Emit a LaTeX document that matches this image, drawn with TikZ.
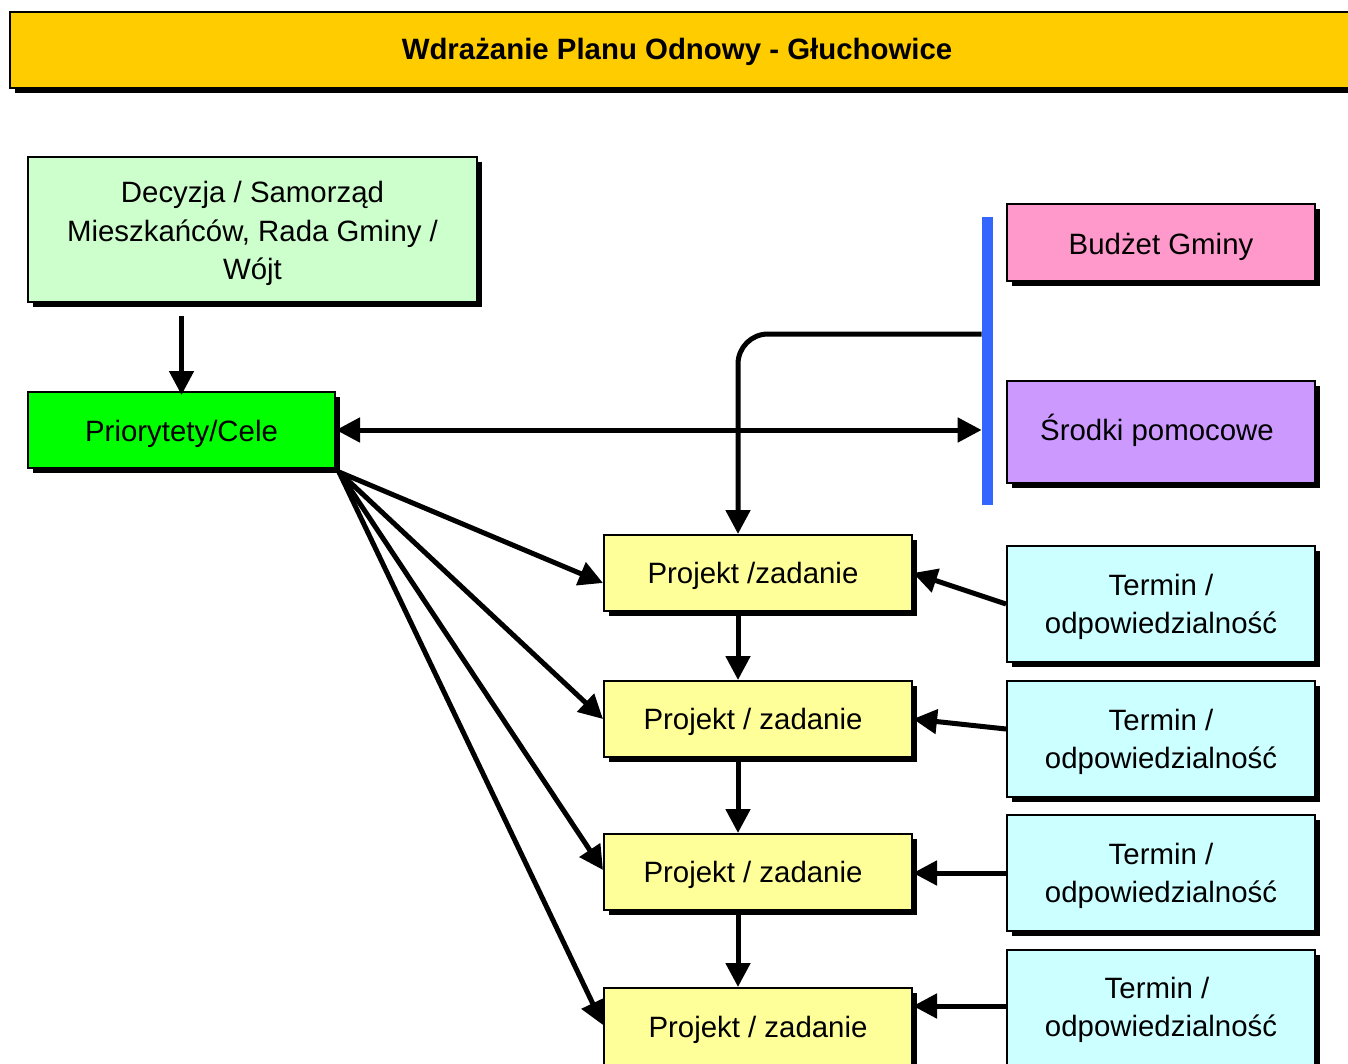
\documentclass[tikz,border=0pt]{standalone}
\usepackage{fontspec}
\setmainfont{Liberation Sans}
\usetikzlibrary{arrows.meta,shadows}
\definecolor{cTitle}{HTML}{FFCC00}
\definecolor{cDec}{HTML}{CCFFCC}
\definecolor{cPrio}{HTML}{00FF00}
\definecolor{cBud}{HTML}{FF99CC}
\definecolor{cSrod}{HTML}{CC99FF}
\definecolor{cProj}{HTML}{FFFF99}
\definecolor{cTerm}{HTML}{CCFFFF}
\definecolor{cBar}{HTML}{3366FF}
% shifted text: #1 = horizontal kern, #2 = vertical shift, #3 = text
\newcommand{\shtxt}[3]{\hspace*{#1}\raisebox{#2}[\height][\depth]{\begin{tabular}{@{}c@{}}#3\end{tabular}}}
\tikzset{
  box/.style={draw=black, line width=1pt, inner sep=0pt, align=center,
    font=\fontsize{14.7}{19.25}\selectfont,
    drop shadow={shadow xshift=2.5pt, shadow yshift=-2.5pt, fill=black, opacity=1}},
  projbox/.style={box, fill=cProj, minimum width=154pt, minimum height=38pt},
  termbox/.style={box, fill=cTerm, minimum width=154pt, minimum height=58pt},
  arr/.style={line width=2.5pt, -{Triangle[length=12pt,width=12pt]}},
  darr/.style={line width=2.5pt, {Triangle[length=12pt,width=12pt]}-{Triangle[length=12pt,width=12pt]}},
}
\begin{document}
\begin{tikzpicture}[x=0.5pt,y=-0.5pt]
\useasboundingbox (0,0) rectangle (1348,1064);
\clip (0,0) rectangle (1348,1064);
\fill[white] (0,0) rectangle (1348,1064);
% title
\node[box, fill=cTitle, minimum width=675pt, minimum height=38pt,
  font=\fontsize{14.7}{17}\selectfont\bfseries] (title) at (685,50)
  {\shtxt{-8pt}{-1.5pt}{Wdrażanie Planu Odnowy - Głuchowice}};
% left column
\node[box, fill=cDec, minimum width=224.5pt, minimum height=72.5pt] (dec) at (252.5,229.5)
  {\shtxt{0pt}{-2pt}{Decyzja / Samorząd\\Mieszkańców, Rada Gminy /\\Wójt}};
\node[box, fill=cPrio, minimum width=153.5pt, minimum height=38pt] (prio) at (181.5,430)
  {\shtxt{0pt}{-2pt}{Priorytety/Cele}};
% right top
\node[box, fill=cBud, minimum width=154pt, minimum height=38.5pt] (bud) at (1161,242.5)
  {\shtxt{0pt}{-2pt}{Budżet Gminy}};
\node[box, fill=cSrod, minimum width=154pt, minimum height=51pt] (srod) at (1161,432)
  {\shtxt{-4pt}{-0.5pt}{Środki pomocowe}};
\node[fill=cBar, inner sep=0pt, minimum width=5.5pt, minimum height=144pt] (bar) at (987.5,361) {};
% projects
\node[projbox] (p1) at (758,573) {\shtxt{-5pt}{-1.5pt}{Projekt /zadanie}};
\node[projbox] (p2) at (758,719) {\shtxt{-5pt}{-1.5pt}{Projekt / zadanie}};
\node[projbox] (p3) at (758,872) {\shtxt{-5pt}{-1.5pt}{Projekt / zadanie}};
\node[projbox, minimum height=42pt] (p4) at (758,1030) {\shtxt{0pt}{0pt}{Projekt / zadanie}};
% termin boxes
\node[termbox] (t1) at (1161,604) {\shtxt{0pt}{-1.5pt}{Termin /\\odpowiedzialność}};
\node[termbox] (t2) at (1161,739) {\shtxt{0pt}{-1.5pt}{Termin /\\odpowiedzialność}};
\node[termbox] (t3) at (1161,873) {\shtxt{0pt}{-1.5pt}{Termin /\\odpowiedzialność}};
\node[termbox] (t4) at (1161,1008) {\shtxt{0pt}{-1pt}{\hspace*{-4pt}Termin /\\odpowiedzialność}};
% connectors
\draw[arr] ([yshift=-6.5pt]dec.south -| prio.north) -- ([yshift=-2pt]prio.north);
\draw[darr] (prio.east) -- (bar.west |- prio.east);
\draw[arr, rounded corners=15pt] (bar.west |- 0,334) -| ([xshift=-10pt]p1.north);
\draw[arr] ([xshift=1.5pt,yshift=-1.5pt]prio.south east) -- ([yshift=-5pt]p1.west);
\draw[arr] ([xshift=1.5pt,yshift=-1.5pt]prio.south east) -- (p2.west);
\draw[arr] ([xshift=1.5pt,yshift=-1.5pt]prio.south east) -- (p3.west |- 0,870);
\draw[arr] ([xshift=1.5pt,yshift=-1.5pt]prio.south east) -- (p4.west |- 0,1025);
\draw[arr] ([xshift=-10pt]p1.south) -- ([xshift=-10pt]p2.north);
\draw[arr] ([xshift=-10pt]p2.south) -- ([xshift=-10pt]p3.north);
\draw[arr] ([xshift=-10pt]p3.south) -- ([xshift=-10pt]p4.north);
\draw[arr] (t1.west) -- (p1.east);
\draw[arr] ([yshift=5pt]t2.west) -- (p2.east);
\draw[arr] (t3.west) -- (t3.west -| p3.east);
\draw[arr] ([yshift=1pt]t4.west) -- ([yshift=1pt]t4.west -| p4.east);
\end{tikzpicture}
\end{document}
